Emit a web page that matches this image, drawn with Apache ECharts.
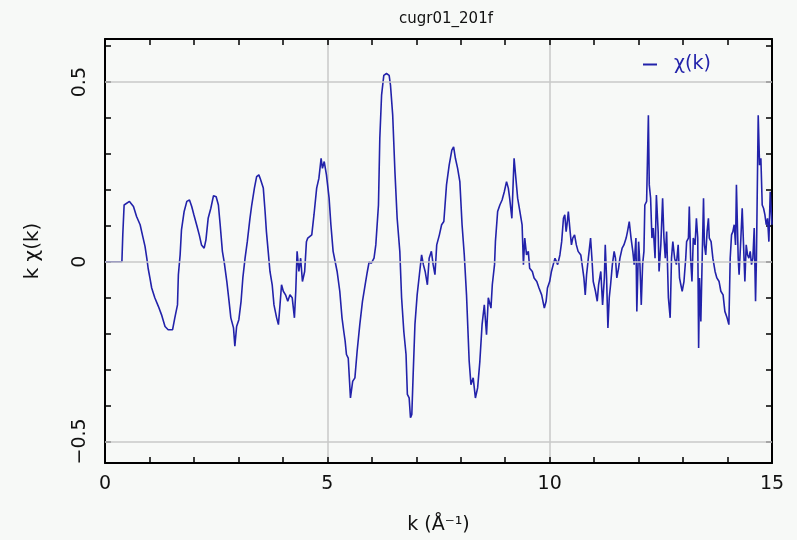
<!DOCTYPE html>
<html>
<head>
<meta charset="utf-8">
<script src="https://cdn.jsdelivr.net/npm/echarts@6/dist/echarts.min.js"></script>
<style>
  html, body { margin: 0; padding: 0; background: #f7f9f7; }
  #chart { width: 797px; height: 540px; }
</style>
</head>
<body>
<div id="chart"></div>
<script>
// k chi(k) trace
var kValues = [
  0, 0.38, 0.40, 0.43, 0.55, 0.64, 0.71, 0.79, 0.85, 0.90, 0.94, 0.97, 1.01, 1.05, 1.12, 1.20, 1.27, 1.35, 1.42, 1.52,
  1.57, 1.63, 1.65, 1.69, 1.72, 1.78, 1.84, 1.90, 1.95, 2.00, 2.06, 2.12, 2.17, 2.23, 2.27, 2.32, 2.38, 2.44, 2.50, 2.55,
  2.59, 2.64, 2.68, 2.74, 2.79, 2.83, 2.89, 2.92, 2.96, 3.01, 3.06, 3.10, 3.15, 3.20, 3.26, 3.30, 3.36, 3.41, 3.46, 3.50,
  3.56, 3.60, 3.63, 3.67, 3.71, 3.76, 3.80, 3.86, 3.90, 3.93, 3.97, 4.01, 4.06, 4.11, 4.16, 4.21, 4.26, 4.29, 4.32, 4.36,
  4.40, 4.44, 4.49, 4.53, 4.56, 4.65, 4.70, 4.76, 4.81, 4.86, 4.89, 4.93, 4.98, 5.04, 5.08, 5.13, 5.22, 5.28, 5.33, 5.37,
  5.40, 5.43, 5.47, 5.52, 5.57, 5.62, 5.67, 5.73, 5.79, 5.85, 5.90, 5.94, 5.99, 6.05, 6.09, 6.15, 6.18, 6.22, 6.27, 6.33,
  6.39, 6.42, 6.47, 6.52, 6.57, 6.63, 6.67, 6.72, 6.77, 6.80, 6.84, 6.87, 6.90, 6.93, 6.97, 7.02, 7.07, 7.12, 7.16, 7.20,
  7.25, 7.29, 7.34, 7.38, 7.42, 7.46, 7.52, 7.57, 7.62, 7.68, 7.74, 7.80, 7.84, 7.88, 7.93, 7.98, 8.03, 8.08, 8.13, 8.19,
  8.23, 8.28, 8.33, 8.38, 8.43, 8.48, 8.53, 8.58, 8.62, 8.68, 8.71, 8.76, 8.78, 8.83, 8.88, 8.93, 8.98, 9.03, 9.07, 9.10,
  9.15, 9.18, 9.20, 9.24, 9.28, 9.33, 9.38, 9.41, 9.44, 9.48, 9.52, 9.55, 9.61, 9.65, 9.71, 9.76, 9.82, 9.88, 9.92, 9.95,
  10.00, 10.04, 10.08, 10.12, 10.18, 10.23, 10.27, 10.31, 10.34, 10.37, 10.39, 10.42, 10.46, 10.49, 10.52, 10.56, 10.60, 10.64, 10.70, 10.73,
  10.77, 10.80, 10.83, 10.87, 10.92, 10.95, 10.98, 11.03, 11.07, 11.10, 11.15, 11.19, 11.23, 11.25, 11.28, 11.31, 11.34, 11.37, 11.41, 11.45,
  11.48, 11.51, 11.55, 11.58, 11.63, 11.67, 11.72, 11.75, 11.79, 11.83, 11.87, 11.90, 11.94, 11.96, 12.00, 12.03, 12.06, 12.09, 12.12, 12.14,
  12.18, 12.22, 12.24, 12.27, 12.30, 12.33, 12.37, 12.40, 12.44, 12.46, 12.50, 12.54, 12.57, 12.60, 12.63, 12.67, 12.71, 12.74, 12.77, 12.81,
  12.85, 12.89, 12.92, 12.95, 12.98, 13.02, 13.06, 13.08, 13.12, 13.14, 13.17, 13.20, 13.23, 13.27, 13.30, 13.33, 13.35, 13.37, 13.40, 13.43,
  13.46, 13.48, 13.51, 13.54, 13.57, 13.59, 13.63, 13.67, 13.72, 13.76, 13.81, 13.85, 13.90, 13.94, 13.99, 14.03, 14.06, 14.09, 14.12, 14.15,
  14.18, 14.20, 14.24, 14.26, 14.30, 14.33, 14.36, 14.39, 14.42, 14.45, 14.48, 14.51, 14.54, 14.57, 14.60, 14.63, 14.65, 14.69, 14.72, 14.75,
  14.78, 14.81, 14.84, 14.87, 14.90, 14.93, 14.96, 15.00
];
var chiValues = [
  0, 0, 0.075, 0.158, 0.168, 0.154, 0.126, 0.103, 0.07, 0.043, 0.01, -0.018, -0.045, -0.073, -0.10, -0.124, -0.147, -0.18, -0.189, -0.189,
  -0.156, -0.12, -0.036, 0.02, 0.089, 0.14, 0.168, 0.172, 0.154, 0.13, 0.103, 0.075, 0.047, 0.038, 0.061, 0.121, 0.149, 0.184, 0.181, 0.158,
  0.103, 0.029, 0, -0.055, -0.11, -0.156, -0.184, -0.235, -0.18, -0.161, -0.11, -0.045, 0.01, 0.056, 0.121, 0.158, 0.205, 0.237, 0.242, 0.228,
  0.205, 0.14, 0.084, 0.029, -0.027, -0.064, -0.12, -0.156, -0.175, -0.129, -0.064, -0.082, -0.092, -0.11, -0.092, -0.10, -0.156, -0.082, 0.029, -0.027,
  0.01, -0.055, -0.027, 0.056, 0.066, 0.075, 0.131, 0.205, 0.232, 0.288, 0.26, 0.279, 0.242, 0.177, 0.103, 0.029, -0.027, -0.082, -0.156, -0.194,
  -0.22, -0.258, -0.268, -0.379, -0.333, -0.323, -0.249, -0.175, -0.11, -0.064, -0.027, 0, -0.004, 0.01, 0.047, 0.158, 0.344, 0.464, 0.519, 0.524,
  0.519, 0.492, 0.408, 0.251, 0.121, 0.029, -0.10, -0.194, -0.258, -0.369, -0.379, -0.434, -0.425, -0.314, -0.175, -0.092, -0.036, 0.019, -0.008, -0.027,
  -0.064, 0.01, 0.029, -0.008, -0.036, 0.047, 0.075, 0.103, 0.112, 0.214, 0.269, 0.311, 0.32, 0.288, 0.26, 0.223, 0.103, 0.019, -0.092, -0.277,
  -0.342, -0.323, -0.379, -0.351, -0.277, -0.175, -0.12, -0.203, -0.10, -0.129, -0.064, -0.008, 0.056, 0.14, 0.158, 0.172, 0.195, 0.223, 0.205, 0.177,
  0.121, 0.223, 0.288, 0.232, 0.177, 0.14, 0.103, -0.008, 0.066, 0.019, 0.029, -0.018, -0.027, -0.045, -0.055, -0.073, -0.092, -0.129, -0.11, -0.073,
  -0.055, -0.027, -0.008, 0.01, -0.008, 0.019, 0.056, 0.121, 0.131, 0.084, 0.103, 0.14, 0.084, 0.047, 0.066, 0.075, 0.047, 0.029, 0.019, -0.008,
  -0.045, -0.092, -0.036, 0.01, 0.066, 0.01, -0.055, -0.082, -0.11, -0.064, -0.027, -0.12, -0.045, 0.047, -0.045, -0.184, -0.10, -0.064, -0.008, 0.029,
  0.01, -0.045, -0.018, 0.01, 0.038, 0.047, 0.066, 0.084, 0.112, 0.066, 0.029, -0.008, 0.066, -0.138, 0.056, -0.008, -0.12, -0.008, 0.029, 0.158,
  0.168, 0.408, 0.214, 0.177, 0.066, 0.094, 0.01, 0.186, 0.084, -0.027, 0.047, 0.177, 0.066, 0.01, 0.084, -0.10, -0.156, 0.01, 0.056, 0.01,
  -0.008, 0.047, -0.045, -0.064, -0.082, -0.055, 0.01, 0.056, 0.066, 0.154, 0.01, -0.055, 0.066, 0.047, 0.121, 0.066, -0.24, -0.045, -0.166, 0.01,
  0.177, 0.047, 0.019, 0.084, 0.121, 0.066, 0.056, 0.01, -0.027, -0.045, -0.055, -0.082, -0.092, -0.138, -0.156, -0.175, 0.01, 0.075, 0.084, 0.103,
  0.047, 0.214, 0.01, -0.036, 0.066, 0.149, 0.047, -0.055, 0.047, 0.019, 0.01, 0.029, -0.008, 0.01, 0.094, -0.11, 0.01, 0.408, 0.269, 0.288,
  0.158, 0.149, 0.131, 0.103, 0.121, 0.056, 0.195, 0.103
];
var yLabelValues = [-0.5, 0, 0.5];
var yTickValues = [-0.5, -0.4, -0.3, -0.2, -0.1, 0, 0.1, 0.2, 0.3, 0.4, 0.5, 0.6];

var seriesData = kValues.map(function (k, i) { return [k, chiValues[i]]; });

var fontName = 'DejaVu Sans';
var lineColor = '#2222aa';

var chart = echarts.init(document.getElementById('chart'));
var option = {
    backgroundColor: '#f7f9f7',
    animation: false,
    title: {
        text: 'cugr01_201f',
        left: 441,
        textAlign: 'center',
        top: 7,
        textStyle: { fontFamily: fontName, fontSize: 15, fontWeight: 'normal', color: '#111' }
    },
    legend: {
        data: ['χ(k)'],
        left: 638,
        top: 50,
        itemWidth: 14,
        itemHeight: 2,
        icon: 'rect',
        formatter: '  {name}',
        textStyle: { fontFamily: fontName, fontSize: 19, color: lineColor }
    },
    grid: {
        left: 105,
        right: 25,
        top: 39,
        bottom: 76
    },
    xAxis: [{
        type: 'value',
        min: 0,
        max: 15,
        interval: 5,
        name: 'k (Å⁻¹)',
        nameLocation: 'middle',
        nameGap: 53,
        nameTextStyle: { fontFamily: fontName, fontSize: 19, color: '#111' },
        axisLine: { show: true, onZero: false, lineStyle: { color: '#000', width: 2 } },
        axisTick: { show: true, inside: true, length: 6, lineStyle: { color: '#000', width: 1.5 } },
        minorTick: { show: true, splitNumber: 5, length: 6, lineStyle: { color: '#000', width: 1.5 } },
        axisLabel: { margin: 12, fontFamily: fontName, fontSize: 19, color: '#111' },
        splitLine: { show: true, lineStyle: { color: '#c9c9c9', width: 1.5 } }
    }, {
        type: 'value',
        position: 'top',
        min: 0,
        max: 15,
        interval: 5,
        axisLine: { show: true, onZero: false, lineStyle: { color: '#000', width: 2 } },
        axisTick: { show: true, inside: true, length: 6, lineStyle: { color: '#000', width: 1.5 } },
        minorTick: { show: true, splitNumber: 5, length: 6, lineStyle: { color: '#000', width: 1.5 } },
        axisLabel: { show: false },
        splitLine: { show: false }
    }],
    yAxis: [{
        type: 'value',
        position: 'left',
        min: -0.56,
        max: 0.62,
        name: 'k χ(k)',
        nameLocation: 'middle',
        nameGap: 62,
        nameTextStyle: { fontFamily: fontName, fontSize: 20, color: '#111' },
        axisLine: { show: true, onZero: false, lineStyle: { color: '#000', width: 2 } },
        axisTick: { show: true, inside: true, length: 6, customValues: yTickValues, lineStyle: { color: '#000', width: 1.5 } },
        axisLabel: {
            rotate: 90,
            margin: 15,
            customValues: yLabelValues,
            formatter: function (v) { return String(v).replace('-', '−'); },
            fontFamily: fontName,
            fontSize: 19,
            color: '#111'
        },
        splitLine: { show: false }
    }, {
        type: 'value',
        position: 'right',
        min: -0.56,
        max: 0.62,
        axisLine: { show: true, onZero: false, lineStyle: { color: '#000', width: 2 } },
        axisTick: { show: true, inside: true, length: 6, customValues: yTickValues, lineStyle: { color: '#000', width: 1.5 } },
        axisLabel: { show: false },
        splitLine: { show: false }
    }],
    series: [{
        name: 'grid',
        type: 'line',
        data: [],
        z: 1,
        markLine: {
            silent: true,
            symbol: 'none',
            label: { show: false },
            lineStyle: { color: '#c9c9c9', width: 1.5, type: 'solid' },
            data: yLabelValues.map(function (v) { return { yAxis: v }; })
        }
    }, {
        name: 'χ(k)',
        type: 'line',
        z: 3,
        data: seriesData,
        showSymbol: false,
        symbol: 'none',
        lineStyle: { color: lineColor, width: 1.6 },
        itemStyle: { color: lineColor }
    }]
};
chart.setOption(option);
</script>
</body>
</html>
